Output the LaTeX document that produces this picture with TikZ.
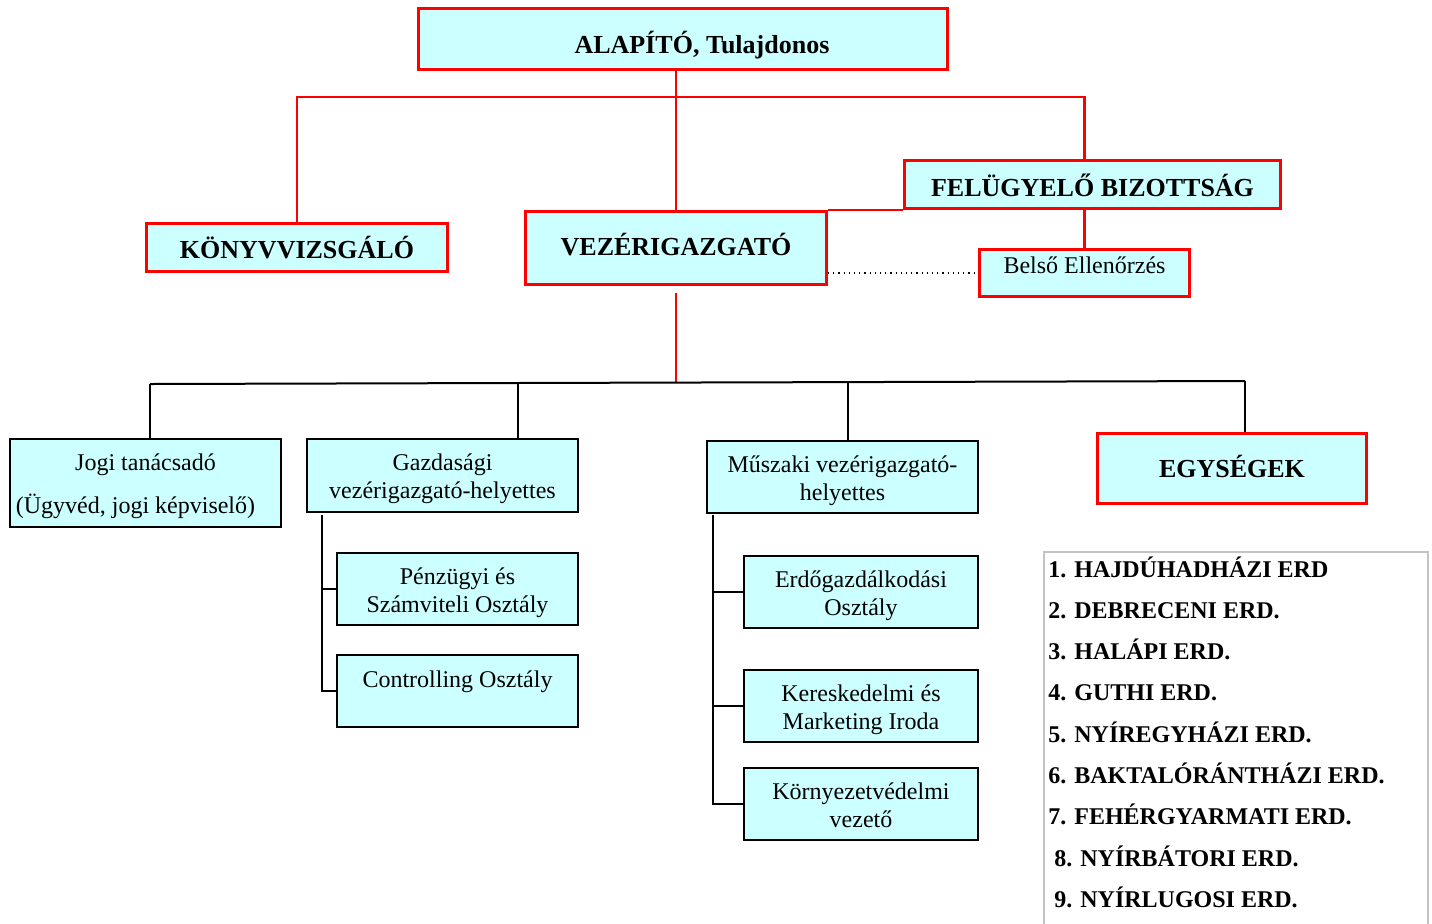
\documentclass[tikz,border=0pt]{standalone}
\usepackage{fontspec}
\setmainfont{Liberation Serif}
\definecolor{cyanfill}{HTML}{CCFFFF}
\definecolor{listgray}{HTML}{C4C4C4}
\newcommand{\mytopstrut}{\rule{0pt}{13pt}}
\newcommand{\mybotstrut}{\rule[-4pt]{0pt}{0pt}}
\begin{document}
\begin{tikzpicture}[x=0.5pt, y=-0.5pt,
  redbox/.style={draw=red, line width=1.4pt, fill=cyanfill, inner sep=0pt},
  blackbox/.style={draw=black, line width=1pt, fill=cyanfill, inner sep=0pt, align=center, font=\fontsize{12}{14}\selectfont},
  bigtxt/.style={font=\fontsize{13}{15.6}\selectfont\bfseries},
  redline/.style={draw=red, line width=1.2pt},
  blackline/.style={draw=black, line width=1pt},
  unititem/.style={anchor=base west, inner sep=0pt, font=\fontsize{12}{14}\selectfont\bfseries}
]
\useasboundingbox (0,0) rectangle (1432,923);

% red boxes
\node[redbox, bigtxt, minimum width=264.6pt, minimum height=30.6pt, text height=14pt, text depth=0pt] (alap) at (683,39) {\hspace*{19pt}ALAPÍTÓ, Tulajdonos};
\node[redbox, bigtxt, minimum width=150.6pt, minimum height=24.1pt, text height=10.5pt, text depth=0pt] (koeny) at (297,247.5) {KÖNYVVIZSGÁLÓ};
\node[redbox, bigtxt, minimum width=150.6pt, minimum height=36.6pt, text height=7pt, text depth=0pt] (vez) at (676,248) {VEZÉRIGAZGATÓ};
\node[redbox, bigtxt, minimum width=188.1pt, minimum height=24.1pt, text height=11.5pt, text depth=0pt] (fb) at (1092.5,184.5) {FELÜGYELŐ BIZOTTSÁG};
\node[redbox, font=\fontsize{12}{14}\selectfont, minimum width=105.1pt, minimum height=23.6pt, text height=4pt, text depth=4pt] (belso) at (1084.5,273) {Belső Ellenőrzés};
\node[redbox, bigtxt, minimum width=134.6pt, minimum height=35.1pt, text height=8.5pt, text depth=0pt] (egys) at (1232,468.5) {EGYSÉGEK};

% black boxes
\node[blackbox, minimum width=135.5pt, minimum height=44pt] (jogi) at (145.5,483) {\mytopstrut Jogi tanácsadó\\[7.5pt](Ügyvéd, jogi képviselő)\hspace*{10pt}\mybotstrut};
\node[blackbox, minimum width=135.5pt, minimum height=36.5pt] (gaz) at (442.5,475.5) {\mytopstrut Gazdasági\\vezérigazgató-helyettes\mybotstrut};
\node[blackbox, minimum width=120.5pt, minimum height=36pt] (penz) at (457.5,589) {\mytopstrut Pénzügyi és\\Számviteli Osztály\mybotstrut};
\node[blackbox, minimum width=120.5pt, minimum height=36pt, text height=0pt, text depth=4pt] (contr) at (457.5,691) {Controlling Osztály};
\node[blackbox, minimum width=135.5pt, minimum height=36pt] (musz) at (842.5,477) {\mytopstrut Műszaki vezérigazgató-\\helyettes\mybotstrut};
\node[blackbox, minimum width=117pt, minimum height=36pt] (erdo) at (861,592) {\mytopstrut Erdőgazdálkodási\\Osztály\mybotstrut};
\node[blackbox, minimum width=117pt, minimum height=36pt] (ker) at (861,706) {\mytopstrut Kereskedelmi és\\Marketing Iroda\mybotstrut};
\node[blackbox, minimum width=117pt, minimum height=36pt] (korny) at (861,804) {\mytopstrut Környezetvédelmi\\vezető\mybotstrut};

% list of units
\node[draw=listgray, line width=0.75pt, anchor=north west, minimum width=192pt, minimum height=200pt, inner sep=0pt] (units) at (1043,551) {};
\node[unititem] (u1) at (1048,577) {1. HAJDÚHADHÁZI ERD};
\node[unititem] (u2) at (1048,618.3) {2. DEBRECENI ERD.};
\node[unititem] (u3) at (1048,659.6) {3. HALÁPI ERD.};
\node[unititem] (u4) at (1048,700.9) {4. GUTHI ERD.};
\node[unititem] (u5) at (1048,742.2) {5. NYÍREGYHÁZI ERD.};
\node[unititem] (u6) at (1048,783.5) {6. BAKTALÓRÁNTHÁZI ERD.};
\node[unititem] (u7) at (1048,824.8) {7. FEHÉRGYARMATI ERD.};
\node[unititem] (u8) at (1054,866.1) {8. NYÍRBÁTORI ERD.};
\node[unititem] (u9) at (1054,907.4) {9. NYÍRLUGOSI ERD.};

% red connectors
\coordinate (rb) at (676,97);
\coordinate (bm) at (676,383);
\draw[redline] (vez.north) -- (vez.north |- alap.south);
\draw[redline] (koeny.north) |- (rb) -| (fb.north -| belso.north);
\draw[redline] (fb.south -| belso.north) -- (belso.north);
\draw[redline] (vez.north east) -- (vez.north east -| fb.west);
\draw[redline] ([yshift=-3.5pt]vez.south) -- (bm);
\draw[dotted, line width=0.6pt] (vez.east |- belso.west) -- (belso.west);

% black connectors
\coordinate (bl) at (150,384);
\coordinate (br) at (1245,381);
\coordinate (bg) at (518,383.5);
\coordinate (bmu) at (848,382.5);
\draw[blackline] (bl) -- (br);
\draw[blackline] (bl) -- (bl |- jogi.north);
\draw[blackline] (bg) -- (bg |- gaz.north);
\draw[blackline] (bmu) -- (bmu |- musz.north);
\draw[blackline] (br) -- (br |- egys.north);

\coordinate (gx) at (322,515);
\draw[blackline] (gx) |- (contr.west);
\draw[blackline] (penz.west -| gx) -- (penz.west);

\coordinate (mx) at (713,515);
\draw[blackline] (mx) |- (korny.west);
\draw[blackline] (erdo.west -| mx) -- (erdo.west);
\draw[blackline] (ker.west -| mx) -- (ker.west);
\end{tikzpicture}
\end{document}
